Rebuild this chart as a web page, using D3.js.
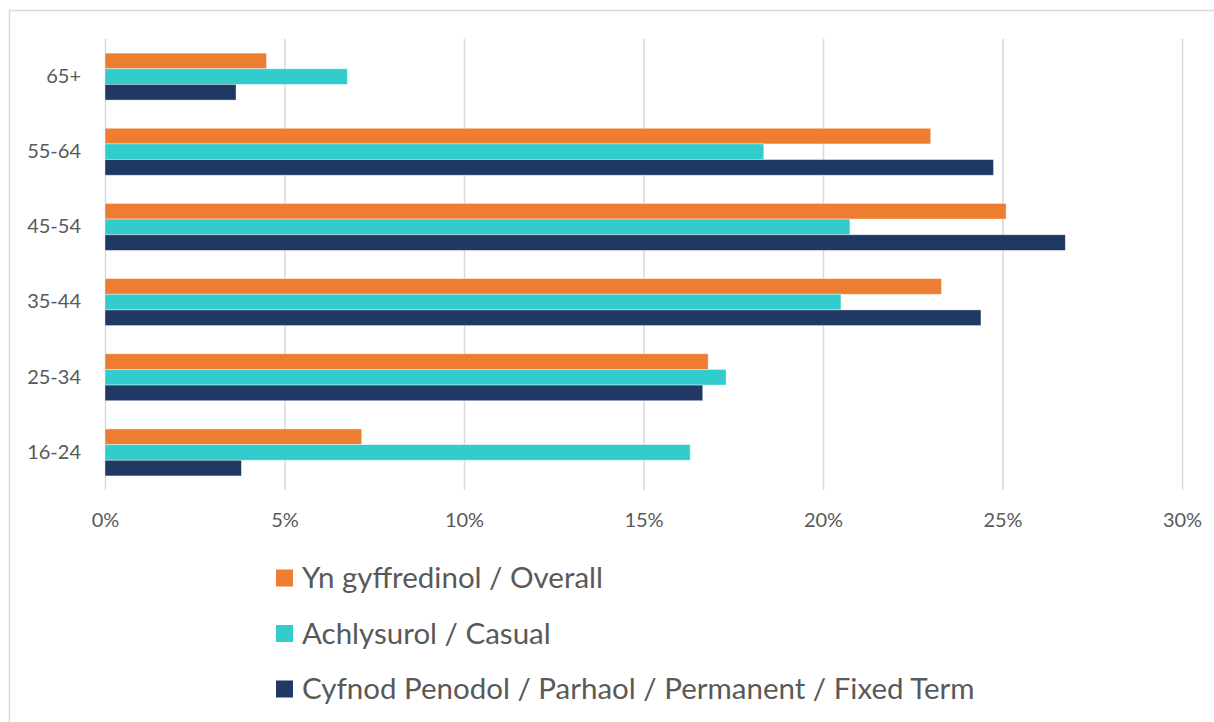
<!DOCTYPE html>
<html>
<head>
<meta charset="utf-8">
<script src="https://cdn.jsdelivr.net/npm/d3@7"></script>
<style>
  body { margin: 0; background: #fff; }
  svg text { font-family: Lato, "Open Sans", sans-serif; }
</style>
</head>
<body>
<svg></svg>
<script>
var width = 1214;
var height = 722;

// age groups, top to bottom as drawn
var categories = ['65+', '55-64', '45-54', '35-44', '25-34', '16-24'];
var seriesNames = [
  'Yn gyffredinol / Overall',
  'Achlysurol / Casual',
  'Cyfnod Penodol / Parhaol / Permanent / Fixed Term'
];
var seriesColors = ['#ED7D31', '#33CCCC', '#203864'];

// values in %, same order as categories
var overall   = [4.5, 23.0, 25.1, 23.3, 16.8, 7.15];
var casual    = [6.75, 18.35, 20.75, 20.5, 17.3, 16.3];
var permanent = [3.65, 24.75, 26.75, 24.4, 16.65, 3.8];
var xTicks = [0, 5, 10, 15, 20, 25, 30];

var series = [overall, casual, permanent];

var margin = {left: 105, right: 32, top: 39, bottom: 232};

var data = categories.map(function(c, i) {
  return {cat: c, values: series.map(function(s, j) { return {key: j, value: s[i]}; })};
});

var svg = d3.select('svg')
  .attr('width', width)
  .attr('height', height);

// chart border
svg.append('rect')
  .attr('x', 9.5)
  .attr('y', 10.5)
  .attr('width', 1220)
  .attr('height', 730)
  .attr('fill', 'none')
  .attr('stroke', '#d9d9d9')
  .attr('stroke-width', 1.5);

var xScale = d3.scaleLinear()
  .domain([0, 30])
  .range([margin.left, width - margin.right]);

var yScale = d3.scaleBand()
  .domain(categories)
  .range([margin.top, height - margin.bottom])
  .paddingInner(0.375)
  .paddingOuter(0.1875);

var ySub = d3.scaleBand()
  .domain([0, 1, 2])
  .range([0, yScale.bandwidth()]);

// gridlines
var xAxis = d3.axisBottom(xScale)
  .tickValues(xTicks)
  .tickSize(-(height - margin.bottom - margin.top))
  .tickSizeOuter(0)
  .tickPadding(23)
  .tickFormat(function(d) { return d + '%'; });

var gx = svg.append('g')
  .attr('transform', `translate(0, ${height - margin.bottom})`)
  .call(xAxis);
gx.select('.domain').remove();
gx.selectAll('line').attr('stroke', '#d9d9d9').attr('stroke-width', 1.5);
gx.selectAll('text')
  .attr('fill', '#595959')
  .style('font-size', '20px');

var groups = svg.selectAll('.grp')
  .data(data)
  .enter()
  .append('g')
  .attr('class', 'grp')
  .attr('transform', d => `translate(0, ${yScale(d.cat)})`);

groups.selectAll('rect')
  .data(d => d.values)
  .enter()
  .append('rect')
  .attr('x', xScale(0))
  .attr('y', d => ySub(d.key))
  .attr('width', d => xScale(d.value) - xScale(0))
  .attr('height', ySub.bandwidth())
  .attr('fill', d => seriesColors[d.key])
  .attr('stroke', '#fff')
  .attr('stroke-opacity', 0.5)
  .attr('stroke-width', 0.8);

// category labels
var yAxis = d3.axisLeft(yScale)
  .tickSize(0)
  .tickPadding(24);

var gy = svg.append('g')
  .attr('transform', `translate(${margin.left}, 0)`)
  .call(yAxis);
gy.select('.domain').remove();
gy.selectAll('text')
  .attr('fill', '#595959')
  .style('font-size', '20px');

// legend
var legend = svg.selectAll('.legend')
  .data(seriesNames)
  .enter()
  .append('g')
  .attr('class', 'legend')
  .attr('transform', (d, i) => `translate(276, ${578 + i * 55.5})`);

legend.append('rect')
  .attr('x', 0)
  .attr('y', -8.5)
  .attr('width', 17)
  .attr('height', 17)
  .attr('fill', (d, i) => seriesColors[i]);

legend.append('text')
  .attr('x', 26)
  .attr('y', 0)
  .attr('dy', '0.35em')
  .attr('fill', '#595959')
  .style('font-size', '29.5px')
  .text(d => d);
</script>
</body>
</html>
